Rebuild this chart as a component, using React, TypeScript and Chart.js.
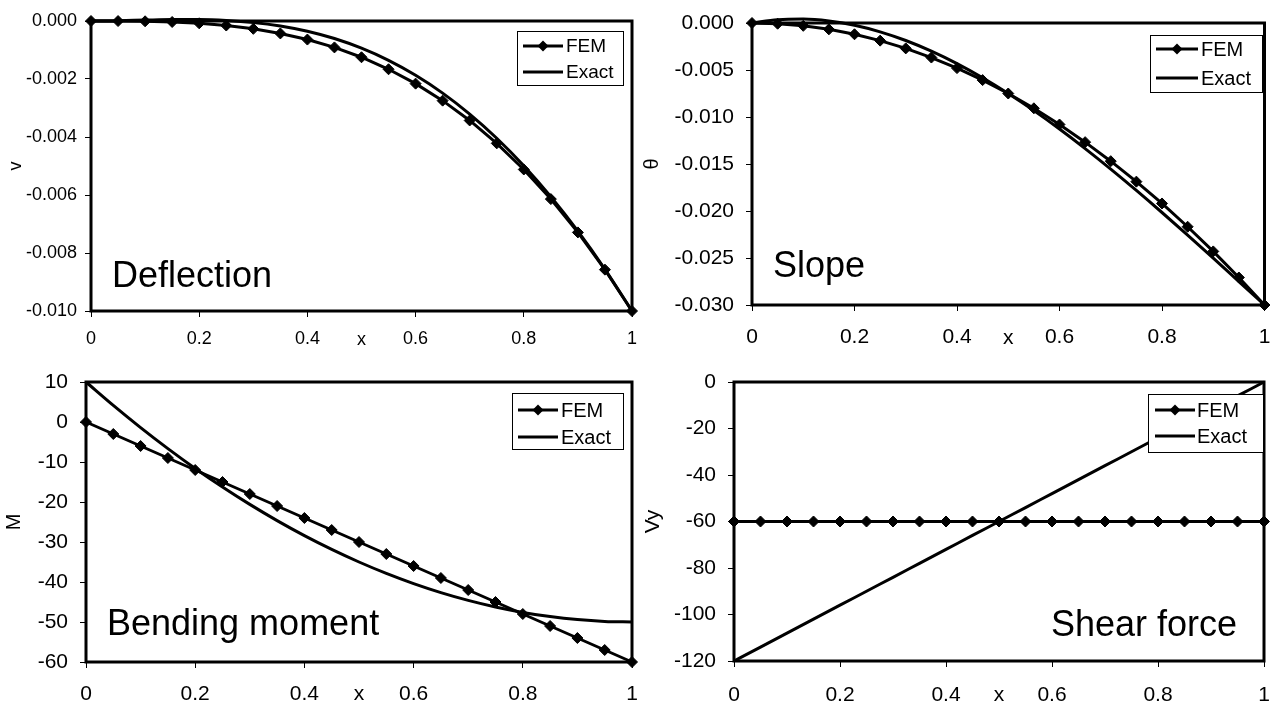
import React, { useEffect, useRef } from "react";
import { Chart, registerables } from "chart.js";

Chart.register(...registerables);

// ---------- data ----------
const xValues = [0, 0.05, 0.1, 0.15, 0.2, 0.25, 0.3, 0.35, 0.4, 0.45, 0.5, 0.55, 0.6, 0.65, 0.7, 0.75, 0.8, 0.85, 0.9, 0.95, 1];
const seriesNames = ["FEM", "Exact"];
const panelTitles = ["Deflection", "Slope", "Bending moment", "Shear force"];
const yAxisTitles = ["v", "θ", "M", "Vy"];
const xAxisTitle = "x";

const deflectionFEM = [0, -0.0000013, -0.00001, -0.000034, -0.00008, -0.000156, -0.00027, -0.000429, -0.00064, -0.000911, -0.00125, -0.001664, -0.00216, -0.002746, -0.00343, -0.004219, -0.00512, -0.006141, -0.00729, -0.008574, -0.01];
const deflectionExact = [0, 0.00001, 0.0000305, 0.0000475, 0.000048, 0.0000195, -0.0000495, -0.00017, -0.000352, -0.000605, -0.0009375, -0.001357, -0.001872, -0.002487, -0.00321, -0.004043, -0.004992, -0.00606, -0.00725, -0.008562, -0.01];

const slopeFEM = [0, -0.000075, -0.0003, -0.000675, -0.0012, -0.001875, -0.0027, -0.003675, -0.0048, -0.006075, -0.0075, -0.009075, -0.0108, -0.012675, -0.0147, -0.016875, -0.0192, -0.021675, -0.0243, -0.027075, -0.03];
const slopeExact = [0, 0.000353, 0.00042, 0.000218, -0.00024, -0.000938, -0.00186, -0.002993, -0.00432, -0.005828, -0.0075, -0.009323, -0.01128, -0.013358, -0.01554, -0.017813, -0.02016, -0.022568, -0.02502, -0.027503, -0.03];

const momentFEM = [0, -3, -6, -9, -12, -15, -18, -21, -24, -27, -30, -33, -36, -39, -42, -45, -48, -51, -54, -57, -60];
const momentExact = [10, 4.15, -1.4, -6.65, -11.6, -16.25, -20.6, -24.65, -28.4, -31.85, -35, -37.85, -40.4, -42.65, -44.6, -46.25, -47.6, -48.65, -49.4, -49.85, -50];

const shearFEM = [-60, -60, -60, -60, -60, -60, -60, -60, -60, -60, -60, -60, -60, -60, -60, -60, -60, -60, -60, -60, -60];
const shearExact = [-120, -114, -108, -102, -96, -90, -84, -78, -72, -66, -60, -54, -48, -42, -36, -30, -24, -18, -12, -6, 0];

const yMins = [-0.01, -0.03, -60, -120];
const yMaxs = [0, 0, 10, 0];
const ySteps = [0.002, 0.005, 10, 20];
const yDecimals = [3, 3, 0, 0];

// ---------- layout (page coordinates) ----------
const FONT = '"Liberation Sans", Arial, Helvetica, sans-serif';

type PanelCfg = {
  fem: number[];
  exact: number[];
  idx: number;
  canvas: { left: number; top: number; w: number; h: number };
  area: { left: number; top: number; right: number; bottom: number };
  tickSize: number;
  xLabelY: number;
  yLabelGap: number;
  xTitleY: number;
  yTitleX: number;
  yTitleSize: number;
  titlePos: { x: number; y: number; align: CanvasTextAlign };
  legend: { l: number; t: number; w: number; h: number; rows: number[]; s1: number; s2: number; tx: number; size: number };
};

const panels: PanelCfg[] = [
  {
    fem: deflectionFEM, exact: deflectionExact, idx: 0,
    canvas: { left: 0, top: 0, w: 640, h: 352 },
    area: { left: 91, top: 21, right: 632, bottom: 311 },
    tickSize: 18, xLabelY: 339, yLabelGap: 14, xTitleY: 340, yTitleX: 16.5, yTitleSize: 18,
    titlePos: { x: 112, y: 287, align: "left" },
    legend: { l: 517, t: 31, w: 106, h: 54, rows: [46, 72], s1: 523, s2: 563, tx: 566, size: 19 },
  },
  {
    fem: slopeFEM, exact: slopeExact, idx: 1,
    canvas: { left: 640, top: 0, w: 631, h: 352 },
    area: { left: 752, top: 23, right: 1265, bottom: 305 },
    tickSize: 21, xLabelY: 337, yLabelGap: 18, xTitleY: 338, yTitleX: 652, yTitleSize: 20,
    titlePos: { x: 773, y: 277, align: "left" },
    legend: { l: 1150, t: 35, w: 112, h: 57, rows: [49, 78], s1: 1156, s2: 1198, tx: 1201, size: 20 },
  },
  {
    fem: momentFEM, exact: momentExact, idx: 2,
    canvas: { left: 0, top: 352, w: 640, h: 352 },
    area: { left: 86, top: 382, right: 632, bottom: 662 },
    tickSize: 21, xLabelY: 694, yLabelGap: 18, xTitleY: 694, yTitleX: 14, yTitleSize: 20,
    titlePos: { x: 107, y: 635, align: "left" },
    legend: { l: 512, t: 393, w: 111, h: 56, rows: [410, 437], s1: 518, s2: 558, tx: 561, size: 20 },
  },
  {
    fem: shearFEM, exact: shearExact, idx: 3,
    canvas: { left: 640, top: 352, w: 631, h: 352 },
    area: { left: 734, top: 382, right: 1264, bottom: 661 },
    tickSize: 21, xLabelY: 695, yLabelGap: 18, xTitleY: 695, yTitleX: 653.5, yTitleSize: 21,
    titlePos: { x: 1237, y: 636, align: "right" },
    legend: { l: 1148, t: 394, w: 115, h: 58, rows: [410, 436], s1: 1155, s2: 1195, tx: 1197, size: 20 },
  },
];

const TICK_LEN = 6;

function drawDiamond(ctx: CanvasRenderingContext2D, x: number, y: number, r: number) {
  ctx.beginPath();
  ctx.moveTo(x, y - r);
  ctx.lineTo(x + r, y);
  ctx.lineTo(x, y + r);
  ctx.lineTo(x - r, y);
  ctx.closePath();
  ctx.fill();
}

function Panel({ cfg }: { cfg: PanelCfg }) {
  const ref = useRef<HTMLCanvasElement>(null);

  useEffect(() => {
    const canvas = ref.current;
    if (!canvas) return;
    const { canvas: cv, area } = cfg;
    const yWidth = area.left - cv.left;
    const xHeight = cv.top + cv.h - area.bottom;
    const padTop = area.top - cv.top;
    const padRight = cv.left + cv.w - area.right;
    const xTickPad = cfg.xLabelY - area.bottom - TICK_LEN - cfg.tickSize * 0.6;
    const yTickPad = cfg.yLabelGap - TICK_LEN;
    const xTitlePad = cv.top + cv.h - cfg.xTitleY - cfg.tickSize / 2;
    const yTitlePad = cfg.yTitleX - cv.left - cfg.yTitleSize / 2;
    const dec = yDecimals[cfg.idx];

    const decor = {
      id: "decor",
      beforeDatasetsDraw(chart: any) {
        const { ctx, chartArea: ca } = chart;
        ctx.save();
        ctx.strokeStyle = "#000";
        ctx.lineWidth = 3;
        ctx.strokeRect(ca.left, ca.top, ca.right - ca.left, ca.bottom - ca.top);
        ctx.restore();
      },
      afterDatasetsDraw(chart: any) {
        const ctx: CanvasRenderingContext2D = chart.ctx;
        ctx.save();
        // panel title
        ctx.fillStyle = "#000";
        ctx.font = `36px ${FONT}`;
        ctx.textAlign = cfg.titlePos.align;
        ctx.textBaseline = "alphabetic";
        ctx.fillText(panelTitles[cfg.idx], cfg.titlePos.x - cv.left, cfg.titlePos.y - cv.top);
        // legend
        const lg = cfg.legend;
        const bx = lg.l - cv.left;
        const by = lg.t - cv.top;
        ctx.fillStyle = "#fff";
        ctx.fillRect(bx, by, lg.w, lg.h);
        ctx.strokeStyle = "#000";
        ctx.lineWidth = 1;
        ctx.strokeRect(bx + 0.5, by + 0.5, lg.w, lg.h);
        ctx.font = `${lg.size}px ${FONT}`;
        ctx.textAlign = "left";
        ctx.textBaseline = "middle";
        chart.data.datasets.forEach((ds: any, i: number) => {
          const ry = lg.rows[i] - cv.top;
          ctx.strokeStyle = "#000";
          ctx.lineWidth = 3;
          ctx.beginPath();
          ctx.moveTo(lg.s1 - cv.left, ry);
          ctx.lineTo(lg.s2 - cv.left, ry);
          ctx.stroke();
          ctx.fillStyle = "#000";
          if (ds.pointRadius > 0) {
            drawDiamond(ctx, (lg.s1 + lg.s2) / 2 - cv.left, ry, 5.5);
          }
          ctx.fillText(ds.label, lg.tx - cv.left, ry + 1);
        });
        ctx.restore();
      },
    };

    const chart = new Chart(canvas, {
      type: "line",
      data: {
        datasets: [
          {
            label: seriesNames[0],
            data: xValues.map((x, i) => ({ x, y: cfg.fem[i] })),
            borderColor: "#000",
            backgroundColor: "#000",
            borderWidth: 3,
            pointStyle: "rectRot",
            pointRadius: 5.5,
            pointBorderWidth: 1,
            pointBackgroundColor: "#000",
            pointBorderColor: "#000",
            tension: 0,
            clip: false,
          },
          {
            label: seriesNames[1],
            data: xValues.map((x, i) => ({ x, y: cfg.exact[i] })),
            borderColor: "#000",
            backgroundColor: "#000",
            borderWidth: 3,
            pointRadius: 0,
            cubicInterpolationMode: "monotone",
            clip: false,
          },
        ],
      },
      options: {
        animation: false,
        responsive: false,
        devicePixelRatio: 1,
        events: [],
        layout: { padding: { top: padTop, right: padRight, left: 0, bottom: 0 } },
        plugins: { legend: { display: false }, tooltip: { enabled: false }, title: { display: false } },
        scales: {
          x: {
            type: "linear",
            min: 0,
            max: 1,
            ticks: {
              stepSize: 0.2,
              color: "#000",
              font: { family: FONT, size: cfg.tickSize },
              padding: xTickPad,
              maxRotation: 0,
              callback: (v: any) => String(Number(Number(v).toFixed(2))),
            },
            grid: { display: true, drawOnChartArea: false, drawTicks: true, tickLength: TICK_LEN, color: "#000", lineWidth: 1 },
            border: { display: false },
            title: { display: true, text: xAxisTitle, color: "#000", font: { family: FONT, size: cfg.tickSize, lineHeight: 1 }, padding: { top: 0, bottom: xTitlePad } },
            afterFit: (s: any) => { s.height = xHeight; s.paddingLeft = 0; s.paddingRight = 0; },
          },
          y: {
            type: "linear",
            min: yMins[cfg.idx],
            max: yMaxs[cfg.idx],
            ticks: {
              stepSize: ySteps[cfg.idx],
              color: "#000",
              font: { family: FONT, size: cfg.tickSize },
              padding: yTickPad,
              callback: (v: any) => Number(v).toFixed(dec),
            },
            grid: { display: true, drawOnChartArea: false, drawTicks: true, tickLength: TICK_LEN, color: "#000", lineWidth: 1 },
            border: { display: false },
            title: { display: true, text: yAxisTitles[cfg.idx], color: "#000", font: { family: FONT, size: cfg.yTitleSize, lineHeight: 1 }, padding: { top: yTitlePad, bottom: 0 } },
            afterFit: (s: any) => { s.width = yWidth; s.paddingTop = 0; s.paddingBottom = 0; },
          },
        },
      } as any,
      plugins: [decor],
    });
    return () => chart.destroy();
  }, [cfg]);

  return (
    <canvas
      ref={ref}
      width={cfg.canvas.w}
      height={cfg.canvas.h}
      style={{ position: "absolute", left: cfg.canvas.left, top: cfg.canvas.top, width: cfg.canvas.w, height: cfg.canvas.h }}
    />
  );
}

export default function App() {
  return (
    <div style={{ position: "absolute", left: 0, top: 0, width: 1271, height: 704, background: "#fff", overflow: "hidden" }}>
      {panels.map((p) => (
        <Panel key={p.idx} cfg={p} />
      ))}
    </div>
  );
}
